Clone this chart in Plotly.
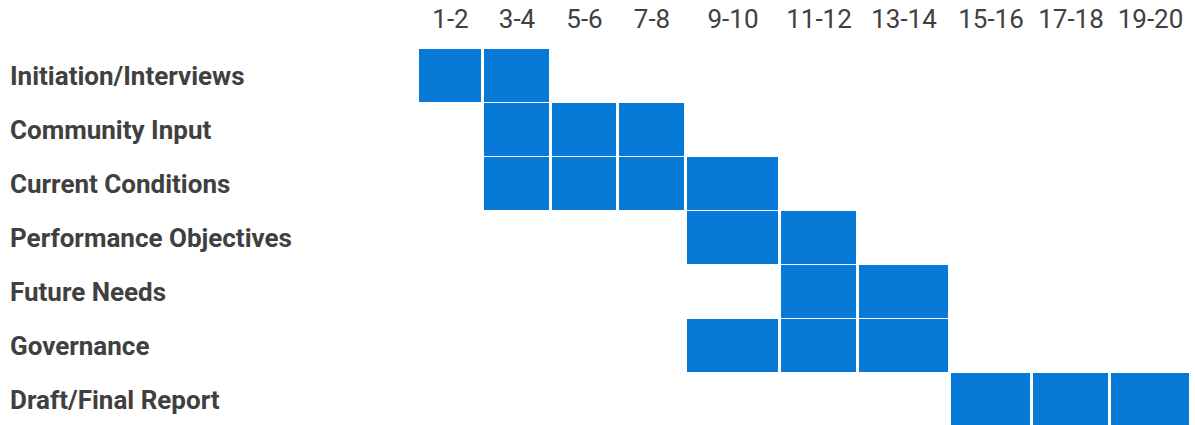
import plotly.graph_objects as go

# ---- data ----
tasks = [
    "Initiation/Interviews",
    "Community Input",
    "Current Conditions",
    "Performance Objectives",
    "Future Needs",
    "Governance",
    "Draft/Final Report",
]
periods = ["1-2", "3-4", "5-6", "7-8", "9-10", "11-12", "13-14", "15-16", "17-18", "19-20"]
# 1 = task active in that two-week period
schedule = [
    [1, 1, 0, 0, 0, 0, 0, 0, 0, 0],
    [0, 1, 1, 1, 0, 0, 0, 0, 0, 0],
    [0, 1, 1, 1, 1, 0, 0, 0, 0, 0],
    [0, 0, 0, 0, 1, 1, 0, 0, 0, 0],
    [0, 0, 0, 0, 0, 1, 1, 0, 0, 0],
    [0, 0, 0, 0, 1, 1, 1, 0, 0, 0],
    [0, 0, 0, 0, 0, 0, 0, 1, 1, 1],
]

# ---- layout config (column widths in px, as in the original table) ----
col_widths = [65, 68, 67, 68, 94, 78, 92, 82, 78, 81]
row_height = 54
W, H = 1195, 425
M_L, M_R, M_T, M_B = 418, 4, 49, 0
BLUE = "#0779d7"
TEXT = "#404040"

x_edges = [0]
for w in col_widths:
    x_edges.append(x_edges[-1] + w)
x_centers = [(x_edges[i] + x_edges[i + 1]) / 2 for i in range(len(col_widths))]
y_edges = list(range(len(tasks) + 1))

z = [[1 if v else None for v in row] for row in schedule]

fig = go.Figure(
    go.Heatmap(
        z=z,
        x=x_edges,
        y=y_edges,
        colorscale=[[0, BLUE], [1, BLUE]],
        zmin=0,
        zmax=1,
        showscale=False,
        xgap=3,
        ygap=1,
        hoverinfo="skip",
    )
)

plot_h = H - M_T - M_B
fig.update_layout(
    width=W,
    height=H,
    margin=dict(l=M_L, r=M_R, t=M_T, b=M_B, pad=0),
    paper_bgcolor="white",
    plot_bgcolor="white",
    font=dict(family="Roboto", color=TEXT),
    xaxis=dict(
        range=[x_edges[0], x_edges[-1]],
        side="top",
        tickvals=x_centers,
        ticktext=periods,
        tickfont=dict(family="Roboto", size=26, color=TEXT),
        showgrid=False,
        zeroline=False,
        showline=False,
        ticks="",
        ticklabelstandoff=15,
    ),
    yaxis=dict(
        range=[plot_h / row_height, 0],
        showticklabels=False,
        showgrid=False,
        zeroline=False,
        showline=False,
        ticks="",
    ),
)

label_x = (8 - M_L) / (W - M_L - M_R)
for i, t in enumerate(tasks):
    fig.add_annotation(
        x=label_x,
        xref="paper",
        y=i + 0.5,
        yref="y",
        text=f"<b>{t}</b>",
        showarrow=False,
        xanchor="left",
        yanchor="middle",
        font=dict(family="Roboto", size=26, color=TEXT),
    )

fig.write_html("out.html")
